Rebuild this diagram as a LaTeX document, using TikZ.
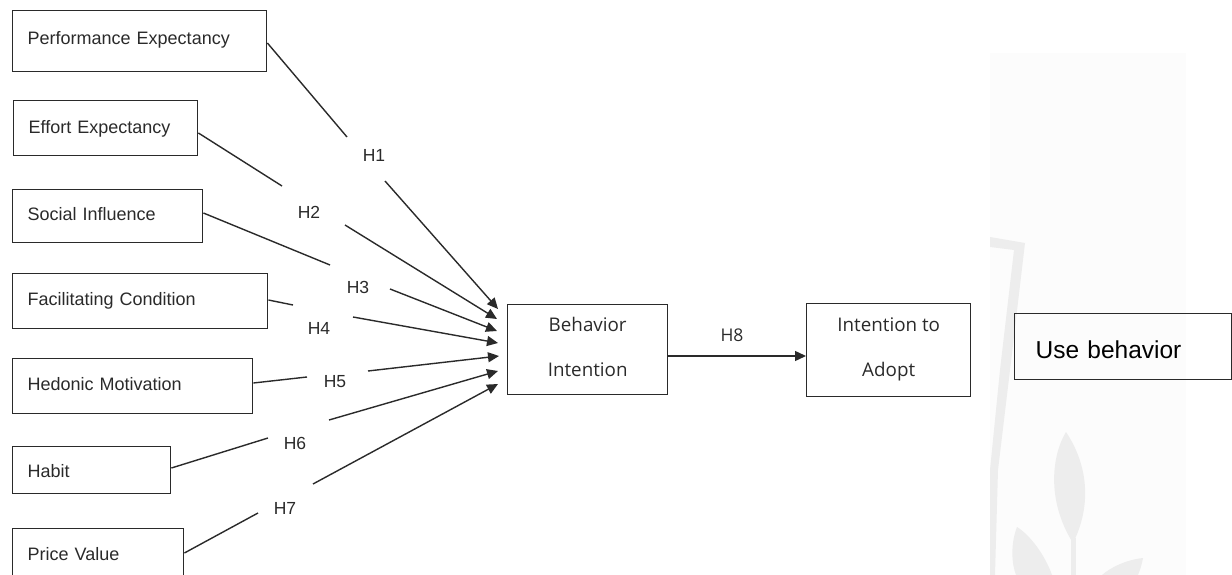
\documentclass[tikz,border=0pt]{standalone}
\usepackage{fontspec}
\setmainfont{Liberation Sans}
\newfontfamily\osans{Open Sans}
\usetikzlibrary{arrows.meta}
\definecolor{ink}{HTML}{2A2A2A}
\definecolor{wmark}{HTML}{EDEDED}
\definecolor{wmarkbg}{HTML}{FCFCFC}
% centred two-line box content: width, height, first-baseline offset, text
\newcommand{\twolines}[4]{\parbox[c][#2][t]{#1}{\centering\rule{0pt}{#3}#4}}

\begin{document}
\begin{tikzpicture}[x=1pt,y=-1pt,
  lbox/.style={draw=ink, line width=1.4pt, anchor=north west, inner xsep=15pt,
    inner ysep=0pt, align=left, text=ink, font=\fontsize{18}{20}\selectfont},
  mbox/.style={draw=ink, line width=1.4pt, anchor=north west, inner sep=0pt,
    text=ink, font=\osans\fontsize{18.8}{45}\selectfont},
  conn/.style={draw=ink, line width=1.4pt},
  arr/.style={conn, -{Triangle[length=11pt,width=10pt]}},
  hyp/.style={text=ink, font=\fontsize{17.5}{20}\selectfont, inner sep=0pt}]

\useasboundingbox (0,0) rectangle (1232,575);

% faint background emblem
\fill[wmarkbg] (990,53) rectangle (1186,575);
\fill[wmark] (990,237) -- (1025,243) -- (1010,370) -- (998,470) -- (995,575)
  -- (990,575) -- (990,470) -- (1000,370) -- (1014,250) -- (990,247) -- cycle;
\fill[wmark] (1066,432) .. controls (1052,455) and (1046,500) .. (1073,543)
  .. controls (1092,505) and (1088,465) .. (1066,432);
\fill[wmark] (1071,538) rectangle (1076,575);
\fill[wmark] (1017,527) .. controls (1010,545) and (1012,565) .. (1016,575)
  -- (1052,575) .. controls (1045,555) and (1030,535) .. (1017,527);
\fill[wmark] (1143,558) .. controls (1125,560) and (1110,568) .. (1102,575)
  -- (1138,575) .. controls (1140,570) and (1142,564) .. (1143,558);

% predictor constructs
\node[lbox, text width=224pt, text height=33.5pt, text depth=27.5pt] (pe) at (12,10) {Performance Expectancy};
\node[lbox, text width=154pt, text height=33pt, text depth=22pt] (ee) at (13,100) {Effort Expectancy};
\node[lbox, text width=160pt, text height=31pt, text depth=22pt] (si) at (12,189) {Social Influence};
\node[lbox, text width=225pt, text height=32pt, text depth=23pt] (fc) at (12,273) {Facilitating Condition};
\node[lbox, text width=210pt, text height=31.5pt, text depth=23.5pt] (hm) at (12,358) {Hedonic Motivation};
\node[lbox, text width=128pt, text height=31pt, text depth=16pt] (hb) at (12,446) {Habit};
\node[lbox, text width=141pt, text height=32pt, text depth=28pt] (pv) at (12,528) {Price Value};

% outcome constructs
\node[mbox] (bi) at (507,304) {\twolines{160pt}{90pt}{27pt}{Behavior\\Intention}};
\node[mbox] (ita) at (806,303) {\twolines{164pt}{93pt}{28pt}{Intention to\\Adopt}};
\node[lbox, inner xsep=21pt, text width=175pt, text height=45pt, text depth=21pt,
  font=\fontsize{24.5}{28}\selectfont, text=black] (ub) at (1014,313) {Use behavior};

% arrow targets in front of Behavior Intention
\coordinate (t1) at (498,309);
\coordinate (t2) at (497,319);
\coordinate (t3) at (497,331);
\coordinate (t4) at (498,343);
\coordinate (t5) at (499,356);
\coordinate (t6) at (498,371);
\coordinate (t7) at (498,384);

% gaps left around the hypothesis labels
\coordinate (a1) at (347,137); \coordinate (b1) at (385,181);
\coordinate (a2) at (282,186); \coordinate (b2) at (345,225);
\coordinate (a3) at (330,265); \coordinate (b3) at (390,289);
\coordinate (a4) at (293,305); \coordinate (b4) at (353,317);
\coordinate (a5) at (307,377); \coordinate (b5) at (368,371);
\coordinate (a6) at (268,438); \coordinate (b6) at (329,420);
\coordinate (a7) at (258,513); \coordinate (b7) at (313,484);

% hypothesis paths
\draw[conn] (pe.east |- 0,43) -- (a1);  \draw[arr] (b1) -- (t1);
\draw[conn] (ee.east |- 0,133) -- (a2); \draw[arr] (b2) -- (t2);
\draw[conn] (si.east |- 0,213) -- (a3); \draw[arr] (b3) -- (t3);
\draw[conn] (fc.east |- 0,300) -- (a4); \draw[arr] (b4) -- (t4);
\draw[conn] (hm.east |- 0,383) -- (a5); \draw[arr] (b5) -- (t5);
\draw[conn] (hb.east |- 0,468) -- (a6); \draw[arr] (b6) -- (t6);
\draw[conn] (pv.east |- 0,553) -- (a7); \draw[arr] (b7) -- (t7);

\node[hyp] (h1) at (374,155) {H1};
\node[hyp] (h2) at (309,212) {H2};
\node[hyp] (h3) at (358,287) {H3};
\node[hyp] (h4) at (319,328) {H4};
\node[hyp] (h5) at (335,382) {H5};
\node[hyp] (h6) at (295,443) {H6};
\node[hyp] (h7) at (285,508) {H7};

% Behavior Intention -> Intention to Adopt
\coordinate (h8s) at (bi.east |- 0,356);
\draw[arr] (h8s) -- (h8s -| ita.west);
\node[hyp, font=\osans\fontsize{17.5}{20}\selectfont] (h8) at (732,335) {H8};

\end{tikzpicture}
\end{document}
